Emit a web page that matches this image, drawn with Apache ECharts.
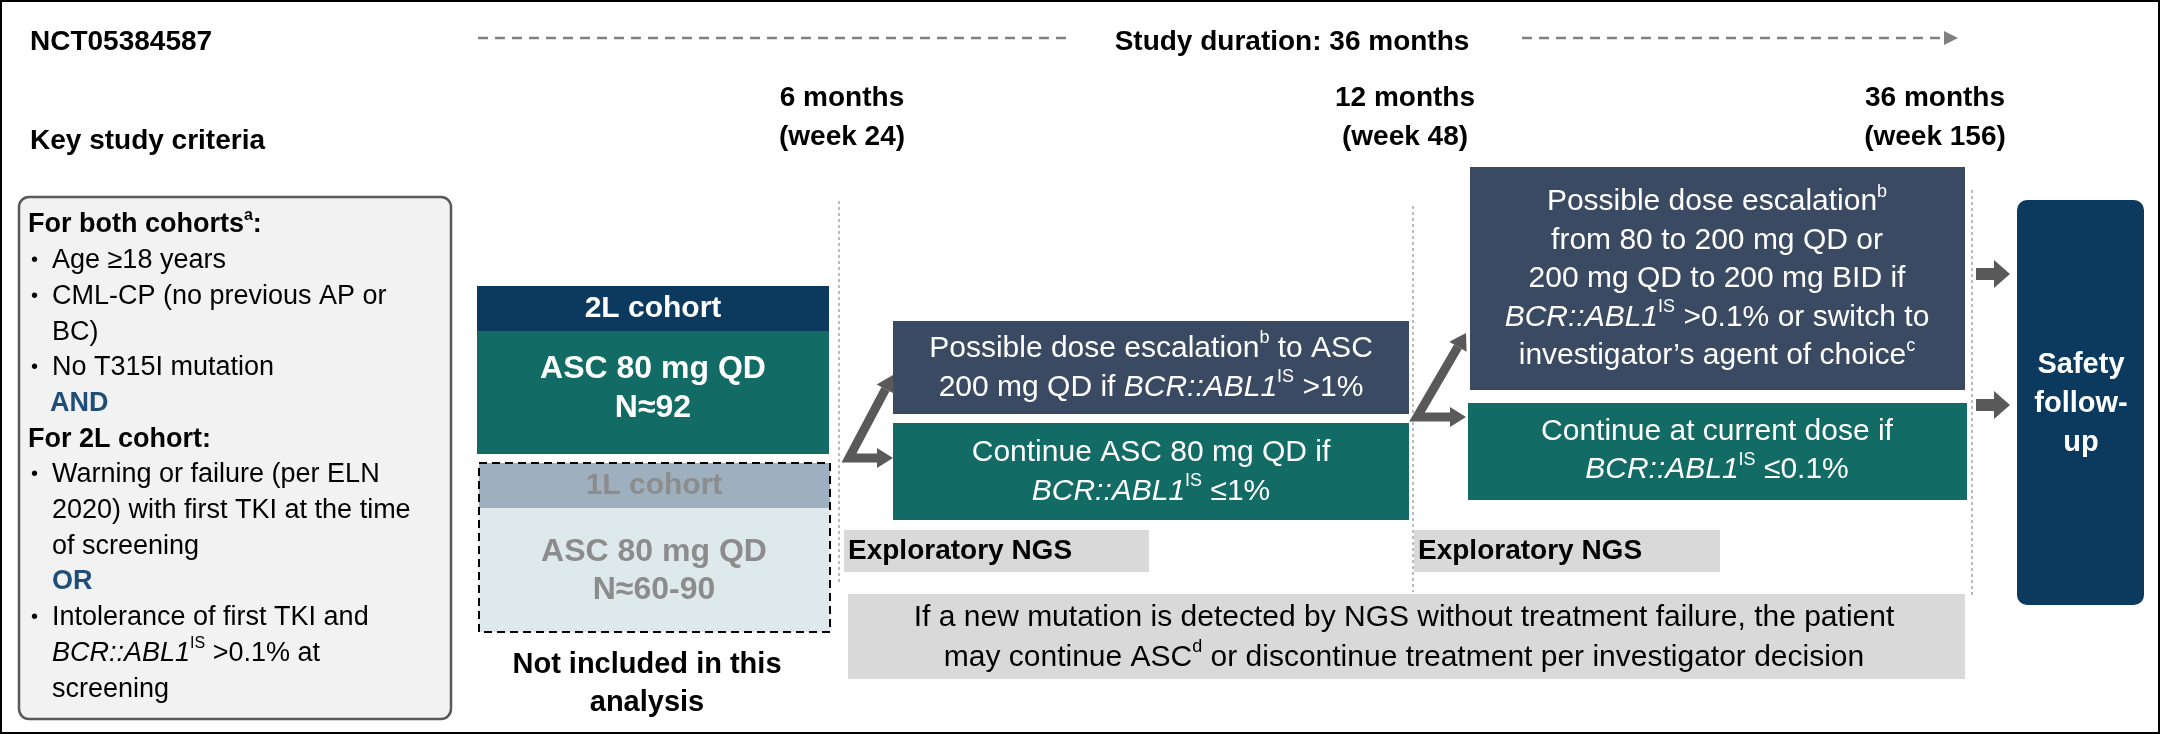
<!DOCTYPE html>
<html><head><meta charset="utf-8">
<script src="https://cdn.jsdelivr.net/npm/echarts@6/dist/echarts.min.js"></script>
<style>html,body{margin:0;padding:0;background:#fff}#chart-container{width:2160px;height:734px}</style>
</head><body><div id="chart-container"></div>
<script>
var dom = document.getElementById('chart-container');
var myChart = echarts.init(dom, null, { renderer: 'canvas' });

// ---- text content ----
var trialId = 'NCT05384587';
var durationLabel = 'Study duration: 36 months';
var criteriaTitle = 'Key study criteria';
var timepoints = [['6 months', '(week 24)'], ['12 months', '(week 48)'], ['36 months', '(week 156)']];
// kind: h = heading, b = bullet, c = continuation, j = conjunction
var criteriaKinds = ['h', 'b', 'b', 'c', 'b', 'j', 'h', 'b', 'c', 'c', 'j', 'b', 'c', 'c'];
var criteriaLines = [
  '{hb|For both cohorts}{sb|a}{hb|:}', 'Age \u226518 years', 'CML-CP (no previous AP or', 'BC)',
  'No T315I mutation', 'AND', '{hb|For 2L cohort:}', 'Warning or failure (per ELN',
  '2020) with first TKI at the time', 'of screening', 'OR', 'Intolerance of first TKI and',
  '{i|BCR::ABL1}{s|IS} >0.1% at', 'screening'
];
var cohort2L = ['2L cohort', 'ASC 80 mg QD\nN\u224892'];
var cohort1L = ['1L cohort', 'ASC 80 mg QD\nN\u224860-90'];
var notIncluded = 'Not included in this\nanalysis';
var month6Up = 'Possible dose escalation{s|b} to ASC\n200 mg QD if {i|BCR::ABL1}{s|IS} >1%';
var month6Down = 'Continue ASC 80 mg QD if\n{i|BCR::ABL1}{s|IS} \u22641%';
var month12Up = 'Possible dose escalation{s|b}\nfrom 80 to 200 mg QD or\n200 mg QD to 200 mg BID if\n{i|BCR::ABL1}{s|IS} >0.1% or switch to\ninvestigator\u2019s agent of choice{s|c}';
var month12Down = 'Continue at current dose if\n{i|BCR::ABL1}{s|IS} \u22640.1%';
var ngsLabel = 'Exploratory NGS';
var mutationNote = 'If a new mutation is detected by NGS without treatment failure, the patient\nmay continue ASC{s|d} or discontinue treatment per investigator decision';
var safetyLabel = 'Safety\nfollow-\nup';

// ---- styles ----
var FONT = '"Liberation Sans", Arial, sans-serif';
var NAVY = '#0b3a5e', TEAL = '#136b65', SLATE = '#3b4a63', GREY = '#d9d9d9', ARROW = '#595959';

function rich(size, color, lh, bold) {
  var w = bold ? 'bold' : 'normal';
  return {
    i: { fontStyle: 'italic', fontSize: size, fontWeight: w, fill: color, lineHeight: lh, fontFamily: FONT },
    s: { fontSize: Math.round(size * 0.6), fontWeight: w, fill: color, lineHeight: lh, verticalAlign: 'top', fontFamily: FONT },
    sb: { fontSize: Math.round(size * 0.6), fontWeight: 'bold', fill: color, lineHeight: lh, verticalAlign: 'top', fontFamily: FONT },
    hb: { fontSize: size, fontWeight: 'bold', fill: color, lineHeight: lh, fontFamily: FONT }
  };
}
function txt(x, y, s, o) {
  o = o || {};
  var size = o.size || 30, color = o.color || '#000', lh = o.lh || Math.round(size * 1.3);
  return { type: 'text', x: x, y: y, z: 10, style: {
    text: s, fontSize: size, fontWeight: o.bold ? 'bold' : 'normal', fontFamily: FONT,
    fill: color, align: o.align || 'center', verticalAlign: o.va || 'middle', lineHeight: lh,
    rich: rich(size, color, lh, o.bold)
  } };
}
function rect(x, y, w, h, fill, extra) {
  var r = { type: 'rect', shape: { x: x, y: y, width: w, height: h, r: 0 }, style: { fill: fill } };
  if (extra) { if (extra.r) r.shape.r = extra.r; if (extra.stroke) { r.style.stroke = extra.stroke; r.style.lineWidth = extra.lw || 2; r.style.lineDash = extra.dash; } }
  return r;
}
function vline(x, y1, y2) {
  return { type: 'line', shape: { x1: x, y1: y1, x2: x, y2: y2 }, style: { stroke: '#a6a6a6', lineWidth: 1.5, lineDash: [3, 3] } };
}
function blockArrow(x, y) {
  return { type: 'polygon', shape: { points: [[x, y - 6], [x + 18, y - 6], [x + 18, y - 14], [x + 34, y], [x + 18, y + 14], [x + 18, y + 6], [x, y + 6]] }, style: { fill: ARROW } };
}
function zigzag(xl, yTop, xr, yBot) {
  // diagonal up-right arrow and horizontal arrow from a common bottom-left corner
  var cx = xl, cy = yBot;
  var tx = xr, ty = yTop;
  var ang = Math.atan2(ty - cy, tx - cx);
  var hl = 16, hw = 10;
  var bx = tx - hl * Math.cos(ang), by = ty - hl * Math.sin(ang);
  var px = -Math.sin(ang) * hw, py = Math.cos(ang) * hw;
  return [
    { type: 'polyline', shape: { points: [[bx, by], [cx, cy], [xr - hl, cy]] }, style: { stroke: ARROW, lineWidth: 9, fill: null, lineJoin: 'miter' } },
    { type: 'polygon', shape: { points: [[tx, ty], [bx + px, by + py], [bx - px, by - py]] }, style: { fill: ARROW } },
    { type: 'polygon', shape: { points: [[xr, cy], [xr - hl, cy - hw], [xr - hl, cy + hw]] }, style: { fill: ARROW } }
  ];
}

var els = [];
els.push(rect(1, 1, 2158, 732, '#fff', { stroke: '#000', lw: 2 }));
els.push(txt(30, 42, trialId, { size: 28, bold: true, align: 'left' }));
els.push({ type: 'line', shape: { x1: 478, y1: 38, x2: 1068, y2: 38 }, style: { stroke: '#808080', lineWidth: 2.5, lineDash: [10, 7] } });
els.push(txt(1292, 42, durationLabel, { size: 28, bold: true }));
els.push({ type: 'line', shape: { x1: 1522, y1: 38, x2: 1945, y2: 38 }, style: { stroke: '#808080', lineWidth: 2.5, lineDash: [10, 7] } });
els.push({ type: 'polygon', shape: { points: [[1958, 38], [1944, 31], [1944, 45]] }, style: { fill: '#808080' } });
els.push(txt(30, 141, criteriaTitle, { size: 28, bold: true, align: 'left' }));

var tpX = [842, 1405, 1935];
timepoints.forEach(function (t, k) {
  els.push(txt(tpX[k], 98, t[0], { size: 28, bold: true }));
  els.push(txt(tpX[k], 137, t[1], { size: 28, bold: true }));
});

// criteria box
els.push(rect(19, 197, 432, 522, '#f2f2f2', { r: 10, stroke: '#595959', lw: 2.5 }));
criteriaLines.forEach(function (s, k) {
  var y = 225 + k * 35.7, kind = criteriaKinds[k];
  if (kind === 'h') els.push(txt(28, y, s, { size: 27, bold: true, align: 'left' }));
  else if (kind === 'j') els.push(txt(k < 7 ? 50 : 52, y, s, { size: 27, bold: true, align: 'left', color: '#1f4e79' }));
  else {
    if (kind === 'b') els.push(txt(31, y, '\u2022', { size: 20, align: 'left' }));
    els.push(txt(52, y, s, { size: 27, align: 'left' }));
  }
});

// cohorts
els.push(rect(477, 286, 352, 45, NAVY));
els.push(rect(477, 331, 352, 123, TEAL));
els.push(txt(653, 309, cohort2L[0], { size: 30, bold: true, color: '#fff' }));
els.push(txt(653, 389, cohort2L[1], { size: 32, bold: true, color: '#fff', lh: 39 }));
els.push(rect(479, 463, 351, 45, '#9eafbf'));
els.push(rect(479, 508, 351, 124, '#dde9ea'));
els.push(rect(479, 463, 351, 169, 'transparent', { stroke: '#000', lw: 2, dash: [8, 5] }));
els.push(txt(654, 486, cohort1L[0], { size: 30, bold: true, color: '#8c8c8c' }));
els.push(txt(654, 571, cohort1L[1], { size: 32, bold: true, color: '#8c8c8c', lh: 38 }));
els.push(txt(647, 684, notIncluded, { size: 29, bold: true, lh: 38 }));

// timeline separators
els.push(vline(839, 201, 585));
els.push(vline(1413, 206, 592));
els.push(vline(1972, 190, 595));

// month 6 decisions
els.push(rect(893, 321, 516, 93, SLATE));
els.push(txt(1151, 368, month6Up, { size: 30, color: '#fff', lh: 39 }));
els.push(rect(893, 423, 516, 97, TEAL));
els.push(txt(1151, 472, month6Down, { size: 30, color: '#fff', lh: 39 }));
els = els.concat(zigzag(849, 375, 893, 458));

// month 12 decisions
els.push(rect(1470, 167, 495, 223, SLATE));
els.push(txt(1717, 279, month12Up, { size: 30, color: '#fff', lh: 38.5 }));
els.push(rect(1468, 403, 499, 97, TEAL));
els.push(txt(1717, 451, month12Down, { size: 30, color: '#fff', lh: 38 }));
els = els.concat(zigzag(1417, 333, 1466, 417));

// NGS
els.push(rect(844, 530, 305, 42, GREY));
els.push(txt(848, 551, ngsLabel, { size: 28, bold: true, align: 'left' }));
els.push(rect(1414, 530, 306, 42, GREY));
els.push(txt(1418, 551, ngsLabel, { size: 28, bold: true, align: 'left' }));
els.push(rect(848, 594, 1117, 85, GREY));
els.push(txt(1404, 638, mutationNote, { size: 30, lh: 40 }));

// safety follow-up
els.push(blockArrow(1976, 274));
els.push(blockArrow(1976, 405));
els.push(rect(2017, 200, 127, 405, NAVY, { r: 10 }));
els.push(txt(2081, 404, safetyLabel, { size: 29, bold: true, color: '#fff', lh: 39 }));

var option = { animation: false, graphic: { elements: els } };
myChart.setOption(option);
window.addEventListener('resize', myChart.resize);
</script>
</body></html>
